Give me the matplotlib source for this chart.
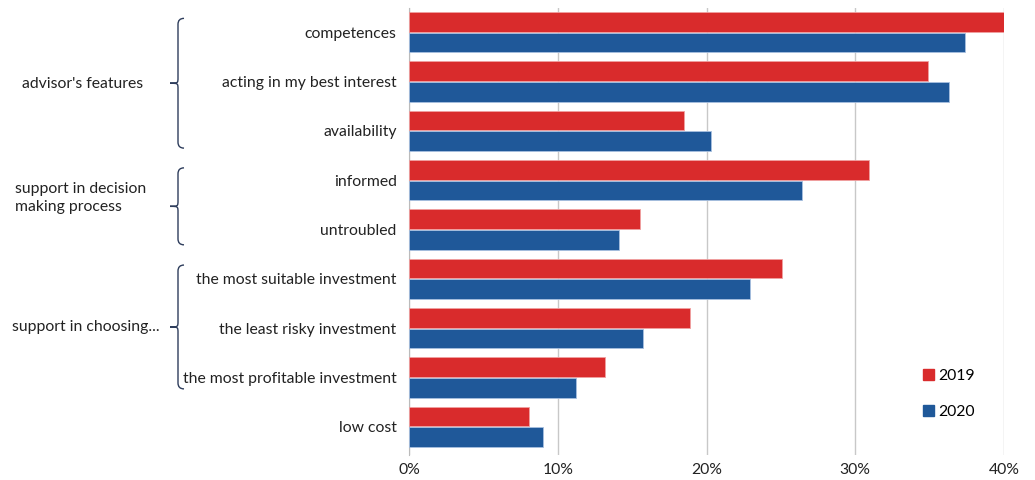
import matplotlib
matplotlib.use("agg")
import matplotlib.pyplot as plt
from matplotlib.path import Path
from matplotlib.patches import PathPatch, Patch
from matplotlib.transforms import blended_transform_factory
import numpy as np

categories = ["competences", "acting in my best interest", "availability",
              "informed", "untroubled", "the most suitable investment",
              "the least risky investment", "the most profitable investment",
              "low cost"]
v2019 = [40.0, 34.9, 18.5, 30.9, 15.5, 25.1, 18.9, 13.2, 8.1]
v2020 = [37.4, 36.3, 20.3, 26.4, 14.1, 22.9, 15.7, 11.2, 9.0]
years = ["2019", "2020"]
xticks = [0, 10, 20, 30, 40]

groups = ["advisor's features", "support in decision\nmaking process", "support in choosing..."]
group_spans = [(-0.28, 2.35), (2.75, 4.31), (4.72, 7.23)]

red = "#D92B2C"
blue = "#1F5899"
font = "Lato"
plt.rcParams["font.family"] = [font, "DejaVu Sans"]
fs = 11.3

fig = plt.figure(figsize=(10.35, 4.8), dpi=100)
ax = fig.add_axes([409/1035, 25/480, 595/1035, 447/480])

y = np.arange(len(categories))
h = 0.4
ax.barh(y - h/2 - 0.01, v2019, height=h, color=red, edgecolor="#F0A0A0", linewidth=0.6, label=years[0], zorder=3)
ax.barh(y + h/2 + 0.01, v2020, height=h, color=blue, edgecolor="#A8C0E0", linewidth=0.6, label=years[1], zorder=3)

ax.set_xlim(0, 40)
ax.set_ylim(8.57, -0.49)
ax.set_xticks(xticks)
ax.set_xticklabels([f"{t}%" for t in xticks])
ax.set_yticks(y)
ax.set_yticklabels(categories)
ax.tick_params(axis="both", length=0, labelsize=fs, colors="#222222")
ax.tick_params(axis="y", pad=9)
ax.tick_params(axis="x", pad=6)
ax.grid(axis="x", color="#C8C8C8", linewidth=1, zorder=0)
for s in ["top", "right", "bottom"]:
    ax.spines[s].set_visible(False)
ax.spines["left"].set_color("#BBBBBB")

leg = ax.legend(handles=[Patch(color=red), Patch(color=blue)], labels=years,
                loc="lower right", bbox_to_anchor=(0.975, 0.05), frameon=False,
                handlelength=0.7, handleheight=0.7, handletextpad=0.3,
                labelspacing=1.35, fontsize=fs)

# curly braces for groups
tr = blended_transform_factory(fig.transFigure, ax.transData)
xl = 178/1035
xe = 184/1035
xt = 170/1035
d = 0.12
for (y0, y1) in group_spans:
    ym = (y0 + y1) / 2
    verts = [(xe, y0), (xl, y0), (xl, y0 + d),
             (xl, ym - d),
             (xl, ym), (xl, ym), (xt, ym),
             (xl, ym), (xl, ym), (xl, ym + d),
             (xl, y1 - d),
             (xl, y1), (xe, y1)]
    codes = [Path.MOVETO, Path.CURVE3, Path.CURVE3,
             Path.LINETO,
             Path.CURVE4, Path.CURVE4, Path.CURVE4,
             Path.CURVE4, Path.CURVE4, Path.CURVE4,
             Path.LINETO,
             Path.CURVE3, Path.CURVE3]
    fig.patches.append(PathPatch(Path(verts, codes), transform=tr, fill=False,
                                 edgecolor="#2E3D5C", linewidth=1.0))

fig.text(83/1035, 1.05, groups[0], transform=tr, ha="center", va="center", fontsize=fs, color="#222222")
fig.text(15/1035, 3.36, groups[1], transform=tr, ha="left", va="center", fontsize=fs, color="#222222", linespacing=1.3)
fig.text(12/1035, 5.97, groups[2], transform=tr, ha="left", va="center", fontsize=fs, color="#222222")

fig.savefig("out.png", dpi=100)
plt.close(fig)
